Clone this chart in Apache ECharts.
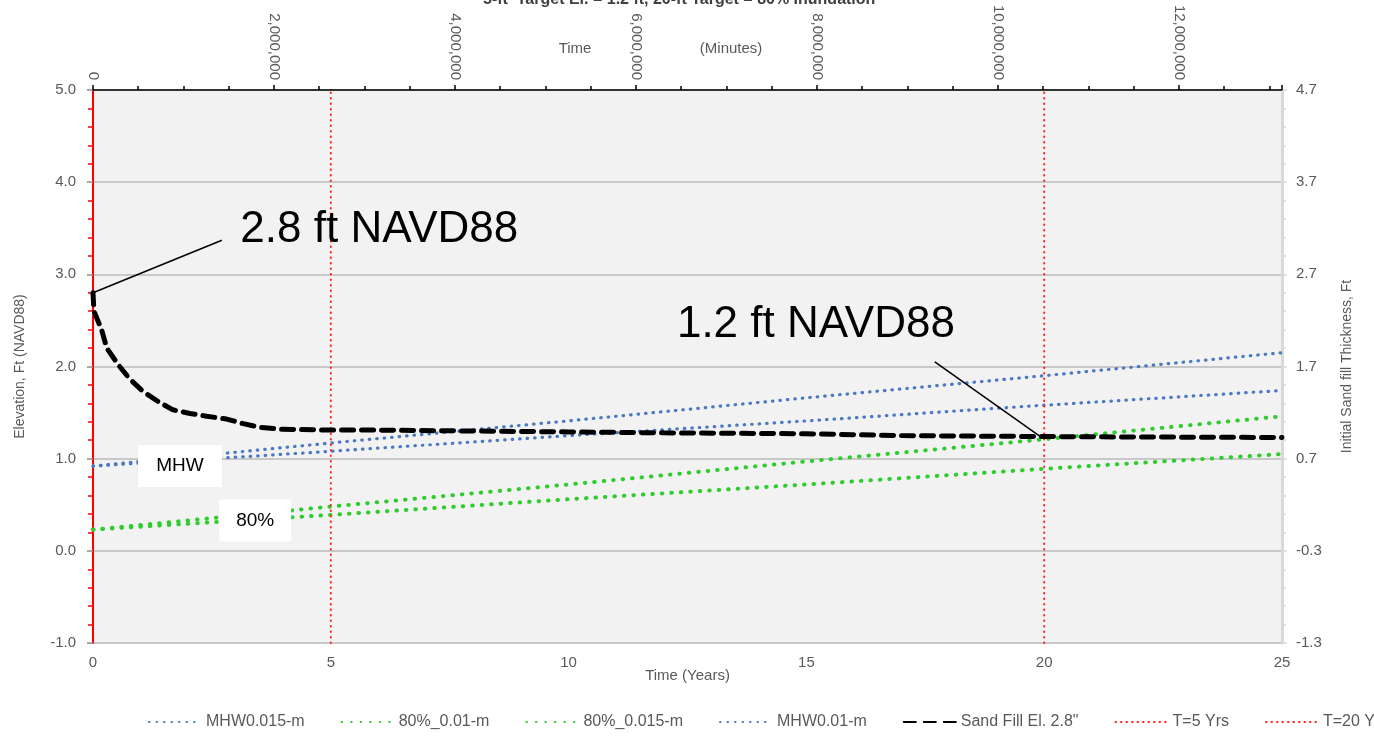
<!DOCTYPE html>
<html>
<head>
<meta charset="utf-8">
<script src="https://cdn.jsdelivr.net/npm/echarts@6/dist/echarts.min.js"></script>
<style>
  html, body { margin: 0; padding: 0; background: #ffffff; }
  #chart { width: 1374px; height: 743px; }
</style>
</head>
<body>
<div id="chart"></div>
<script>
// ---- data ----
const years = [0, 5, 10, 15, 20, 25];
const mhw015 = [0.92, 1.17, 1.41, 1.66, 1.90, 2.15];
const mhw010 = [0.92, 1.08, 1.25, 1.41, 1.58, 1.74];
const inund80_010 = [0.23, 0.39, 0.56, 0.72, 0.89, 1.05];
const inund80_015 = [0.23, 0.48, 0.72, 0.97, 1.21, 1.46];

const sandYears = [0, 0.02, 0.18, 0.29, 0.53, 0.78, 1.05, 1.37, 1.68, 2.04, 2.39, 2.81, 3.16, 3.51, 3.93,
                   5, 6, 8, 10, 12, 15, 17, 20, 22, 25];
const sandElev  = [2.80, 2.60, 2.40, 2.20, 2.02, 1.86, 1.73, 1.62, 1.53, 1.49, 1.46, 1.43, 1.38, 1.34, 1.32,
                   1.31, 1.31, 1.30, 1.29, 1.28, 1.27, 1.25, 1.24, 1.235, 1.23];

const markerYears = [5, 20];
const markerNames = ['T=5 Yrs', 'T=20 Yrs'];
const seriesNames = ['MHW0.015-m', '80%_0.01-m', '80%_0.015-m', 'MHW0.01-m', 'Sand Fill El. 2.8"'];

const elevTicks = ['-1.0', '0.0', '1.0', '2.0', '3.0', '4.0', '5.0'];
const thickTicks = ['-1.3', '-0.3', '0.7', '1.7', '2.7', '3.7', '4.7'];
const yearTicks = ['0', '5', '10', '15', '20', '25'];

const minutesPerYear = 525600;
const titleText = '5-ft  Target El. = 1.2 ft, 20-ft Target = 80% Inundation';

// ---- helpers ----
const FONT = "'Liberation Sans', Arial, sans-serif";
const GRAY = '#595959';
const pairs = (xs, ys) => xs.map((x, i) => [x, ys[i]]);
const dots = (color, width, gap) => ({ color, width, type: [0.5, gap], cap: 'round' });

const yMin = -1, yMax = 5;
const startVal = sandElev[0];
const targetIdx = sandYears.indexOf(20);
const targetVal = sandElev[targetIdx];

const chart = echarts.init(document.getElementById('chart'), null, { renderer: 'canvas' });

const lineSeries = (name, data, style, z) => ({
  name, type: 'line', data, symbol: 'none', showSymbol: false, silent: true,
  lineStyle: style, itemStyle: { color: style.color }, z: z || 2, animation: false
});

const series = [
  lineSeries(seriesNames[0], pairs(years, mhw015), dots('#4a78c2', 3.2, 7)),
  lineSeries(seriesNames[1], pairs(years, inund80_010), dots('#2ecc2e', 4, 9)),
  lineSeries(seriesNames[2], pairs(years, inund80_015), dots('#2ecc2e', 4, 9)),
  lineSeries(seriesNames[3], pairs(years, mhw010), dots('#4a78c2', 3.2, 7)),
  Object.assign(
    lineSeries(seriesNames[4], pairs(sandYears, sandElev),
      { color: '#000000', width: 5, type: [12, 8], cap: 'round' }, 5),
    {
      markLine: {
        silent: true, symbol: ['none', 'none'], animation: false,
        label: { show: false },
        lineStyle: { color: '#000000', width: 1.5, type: 'solid' },
        data: [
          [{ coord: [sandYears[0], startVal] }, { coord: [2.71, 3.37] }],
          [{ coord: [17.7, 2.05] }, { coord: [20 - 0.08, targetVal] }]
        ]
      },
      markPoint: {
        silent: true, animation: false,
        data: [
          { coord: [6.02, 3.48], symbol: 'rect', symbolSize: 1, itemStyle: { color: 'rgba(0,0,0,0)' },
            label: { show: true, position: 'inside', formatter: startVal.toFixed(1) + ' ft NAVD88',
                     fontSize: 44, color: '#000', fontFamily: FONT } },
          { coord: [15.2, 2.45], symbol: 'rect', symbolSize: 1, itemStyle: { color: 'rgba(0,0,0,0)' },
            label: { show: true, position: 'inside', formatter: targetVal.toFixed(1) + ' ft NAVD88',
                     fontSize: 44, color: '#000', fontFamily: FONT } },
          { coord: [1.83, 0.92], symbol: 'rect', symbolSize: [84, 42], itemStyle: { color: '#ffffff' },
            label: { show: true, position: 'inside', formatter: 'MHW', fontSize: 19, color: '#000', fontFamily: FONT } },
          { coord: [3.41, 0.33], symbol: 'rect', symbolSize: [72, 42], itemStyle: { color: '#ffffff' },
            label: { show: true, position: 'inside', formatter: '80%', fontSize: 19, color: '#000', fontFamily: FONT } }
        ]
      }
    }
  )
];

markerYears.forEach((t, i) => {
  series.push(lineSeries(markerNames[i], [[t, yMin], [t, yMax]], dots('#ff2020', 2, 5), 3));
});

const option = {
  backgroundColor: '#ffffff',
  animation: false,
  title: {
    text: titleText, left: 478, top: -13,
    textStyle: { fontSize: 16, fontWeight: 'bold', color: '#404040', fontFamily: FONT }
  },
  legend: {
    data: seriesNames.concat(markerNames),
    left: 143, top: 709, width: 1700,
    itemWidth: 52, itemHeight: 14, itemGap: 36,
    itemStyle: { opacity: 0 },
    textStyle: { fontSize: 16, color: GRAY, fontFamily: FONT }
  },
  grid: {
    left: 93, right: 92, top: 90, bottom: 100,
    outerBoundsMode: 'none', containLabel: false,
    show: true, backgroundColor: '#f2f2f2', borderWidth: 0
  },
  xAxis: [
    {
      type: 'value', position: 'bottom', min: 0, max: 25, interval: 5,
      name: 'Time (Years)', nameLocation: 'middle', nameGap: 25, nameMoveOverlap: false,
      nameTextStyle: { fontSize: 15, color: GRAY, fontFamily: FONT },
      axisLine: { show: false }, axisTick: { show: false }, splitLine: { show: false },
      axisLabel: { margin: 12, fontSize: 15, color: GRAY, fontFamily: FONT,
                   formatter: (v) => yearTicks[Math.round(v / 5)] }
    },
    {
      type: 'value', position: 'top', min: 0, max: 25 * minutesPerYear, interval: 2000000,
      name: 'Time                          (Minutes)', nameLocation: 'middle', nameGap: 34,
      nameMoveOverlap: false,
      nameTextStyle: { fontSize: 15, color: GRAY, fontFamily: FONT, padding: [0, 54, 0, 0] },
      axisLine: { show: true, onZero: false, lineStyle: { color: '#000000', width: 1.5 } },
      axisTick: { show: true, length: 5, lineStyle: { color: '#000000', width: 1.5 } },
      minorTick: { show: true, splitNumber: 4, length: 4, lineStyle: { color: '#000000', width: 1.5 } },
      splitLine: { show: false },
      axisLabel: { rotate: 90, margin: 10, fontSize: 15, color: GRAY, fontFamily: FONT,
                   showMaxLabel: false,
                   formatter: (v) => Math.round(v).toLocaleString('en-US') }
    }
  ],
  yAxis: [
    {
      type: 'value', position: 'left', min: yMin, max: yMax, interval: 1,
      name: 'Elevation, Ft (NAVD88)', nameLocation: 'middle', nameGap: 66, nameRotate: 90,
      nameMoveOverlap: false,
      nameTextStyle: { fontSize: 14, color: GRAY, fontFamily: FONT },
      axisLine: { show: true, onZero: false, lineStyle: { color: '#ff0000', width: 2 } },
      axisTick: { show: true, length: 6, lineStyle: { color: '#8c8c8c', width: 1.5 } },
      minorTick: { show: true, splitNumber: 5, length: 5, lineStyle: { color: '#ff0000', width: 1.5 } },
      splitLine: { show: true, lineStyle: { color: '#c8c8c8', width: 2 } },
      axisLabel: { margin: 17, fontSize: 15, color: GRAY, fontFamily: FONT,
                   formatter: (v) => elevTicks[Math.round(v - yMin)] }
    },
    {
      type: 'value', position: 'right', min: yMin, max: yMax, interval: 1,
      name: 'Initial Sand fill Thickness, Ft', nameLocation: 'middle', nameGap: 58, nameRotate: 90,
      nameMoveOverlap: false,
      nameTextStyle: { fontSize: 14, color: GRAY, fontFamily: FONT },
      axisLine: { show: true, onZero: false, lineStyle: { color: '#d9d9d9', width: 3 } },
      axisTick: { show: true, length: 5, lineStyle: { color: '#d9d9d9', width: 1.5 } },
      minorTick: { show: true, splitNumber: 5, length: 4, lineStyle: { color: '#d9d9d9', width: 1.5 } },
      splitLine: { show: false },
      axisLabel: { margin: 14, fontSize: 15, color: GRAY, fontFamily: FONT,
                   formatter: (v) => thickTicks[Math.round(v - yMin)] }
    }
  ],
  series
};

chart.setOption(option);
</script>
</body>
</html>
